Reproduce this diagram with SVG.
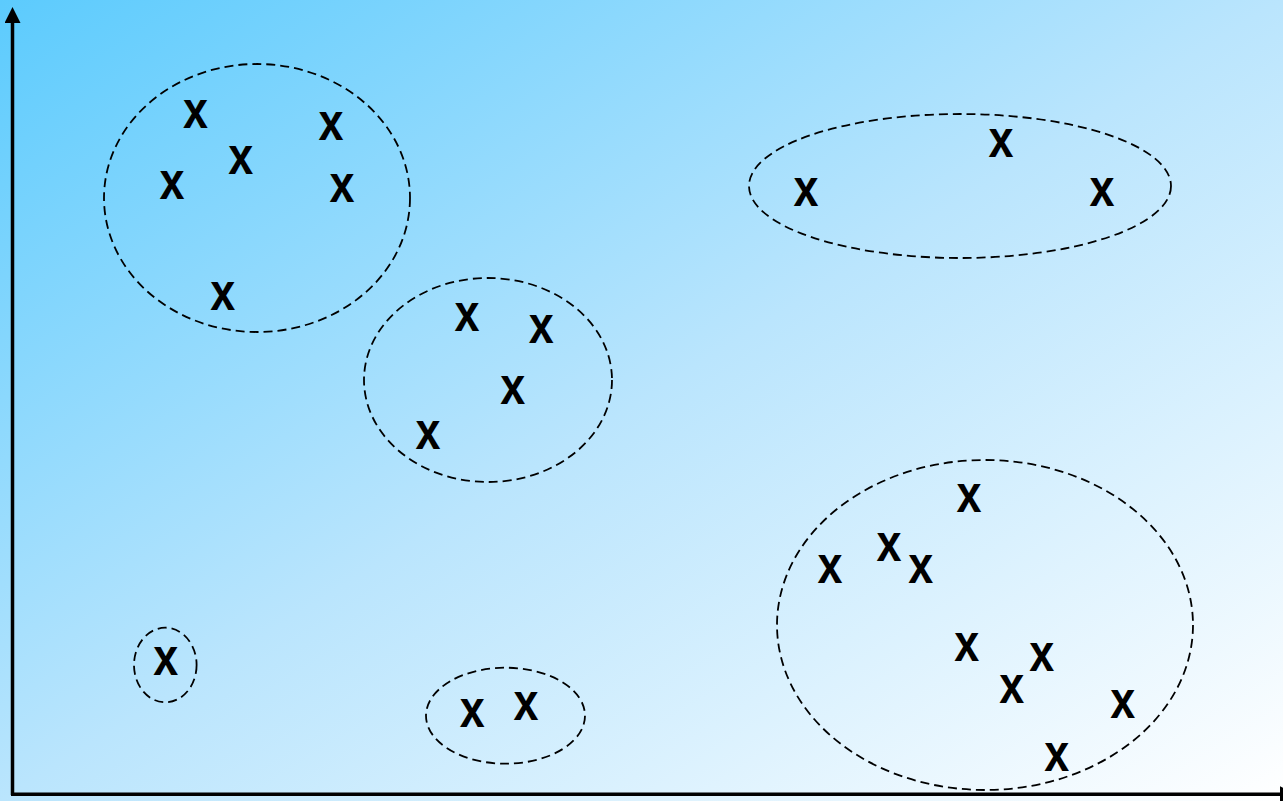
<svg xmlns="http://www.w3.org/2000/svg" width="1283" height="801" viewBox="0 0 1283 801">
<defs>
<linearGradient id="bg" x1="0" y1="0" x2="1" y2="1">
<stop offset="0" stop-color="#5ccbfd"/>
<stop offset="0.5" stop-color="#bae5fd"/>
<stop offset="1" stop-color="#ffffff"/>
</linearGradient>
<marker id="arr" viewBox="0 0 16 16" refX="1" refY="8" markerWidth="16" markerHeight="16" markerUnits="userSpaceOnUse" orient="auto">
<path d="M0,0 L16,8 L0,16 Z" fill="#000"/>
</marker>
</defs>
<style>
.cl{fill:none;stroke:#000;stroke-width:1.8;stroke-dasharray:9 5}
.pt{font-family:"Liberation Sans",Arial,sans-serif;font-weight:bold;font-size:51px;fill:#000;text-anchor:middle}
.ax{fill:none;stroke:#000;stroke-width:3.5}
</style>
<rect x="0" y="0" width="1283" height="801" fill="url(#bg)"/>
<g id="axes">
<path class="ax" d="M12.5,795 L12.5,22" marker-end="url(#arr)"/>
<path class="ax" d="M11,794.3 L1281,794.3" marker-end="url(#arr)"/>
</g>
<g id="cluster1">
<ellipse class="cl" cx="257" cy="198" rx="153" ry="134"/>
<text class="pt" x="195.5" y="128.3" textLength="25" lengthAdjust="spacingAndGlyphs">x</text>
<text class="pt" x="331" y="140.3" textLength="25" lengthAdjust="spacingAndGlyphs">x</text>
<text class="pt" x="240.7" y="174.3" textLength="25" lengthAdjust="spacingAndGlyphs">x</text>
<text class="pt" x="172" y="199.3" textLength="25" lengthAdjust="spacingAndGlyphs">x</text>
<text class="pt" x="342" y="202" textLength="25" lengthAdjust="spacingAndGlyphs">x</text>
<text class="pt" x="222.7" y="310.3" textLength="25" lengthAdjust="spacingAndGlyphs">x</text>
</g>
<g id="cluster2">
<ellipse class="cl" cx="488" cy="380" rx="124" ry="102"/>
<text class="pt" x="467" y="331.3" textLength="25" lengthAdjust="spacingAndGlyphs">x</text>
<text class="pt" x="541.3" y="342.6" textLength="25" lengthAdjust="spacingAndGlyphs">x</text>
<text class="pt" x="512.7" y="404" textLength="25" lengthAdjust="spacingAndGlyphs">x</text>
<text class="pt" x="428" y="449.3" textLength="25" lengthAdjust="spacingAndGlyphs">x</text>
</g>
<g id="cluster3">
<ellipse class="cl" cx="960" cy="186" rx="211" ry="72"/>
<text class="pt" x="1001" y="157" textLength="25" lengthAdjust="spacingAndGlyphs">x</text>
<text class="pt" x="806" y="205.6" textLength="25" lengthAdjust="spacingAndGlyphs">x</text>
<text class="pt" x="1102" y="205.6" textLength="25" lengthAdjust="spacingAndGlyphs">x</text>
</g>
<g id="cluster4">
<ellipse class="cl" cx="985" cy="625" rx="208" ry="165"/>
<text class="pt" x="969" y="512.3" textLength="25" lengthAdjust="spacingAndGlyphs">x</text>
<text class="pt" x="830" y="583.3" textLength="25" lengthAdjust="spacingAndGlyphs">x</text>
<text class="pt" x="889" y="560.6" textLength="25" lengthAdjust="spacingAndGlyphs">x</text>
<text class="pt" x="920.7" y="583.3" textLength="25" lengthAdjust="spacingAndGlyphs">x</text>
<text class="pt" x="966.7" y="661" textLength="25" lengthAdjust="spacingAndGlyphs">x</text>
<text class="pt" x="1041.7" y="671" textLength="25" lengthAdjust="spacingAndGlyphs">x</text>
<text class="pt" x="1011.7" y="703.3" textLength="25" lengthAdjust="spacingAndGlyphs">x</text>
<text class="pt" x="1122.7" y="718.3" textLength="25" lengthAdjust="spacingAndGlyphs">x</text>
<text class="pt" x="1056.7" y="770.6" textLength="25" lengthAdjust="spacingAndGlyphs">x</text>
</g>
<g id="cluster5">
<ellipse class="cl" cx="505.5" cy="715.7" rx="79.5" ry="48"/>
<text class="pt" x="472.3" y="726.6" textLength="25" lengthAdjust="spacingAndGlyphs">x</text>
<text class="pt" x="526" y="720" textLength="25" lengthAdjust="spacingAndGlyphs">x</text>
</g>
<g id="cluster6">
<ellipse class="cl" cx="165.3" cy="665" rx="31.3" ry="37.3"/>
<text class="pt" x="165.7" y="675" textLength="25" lengthAdjust="spacingAndGlyphs">x</text>
</g>
</svg>
